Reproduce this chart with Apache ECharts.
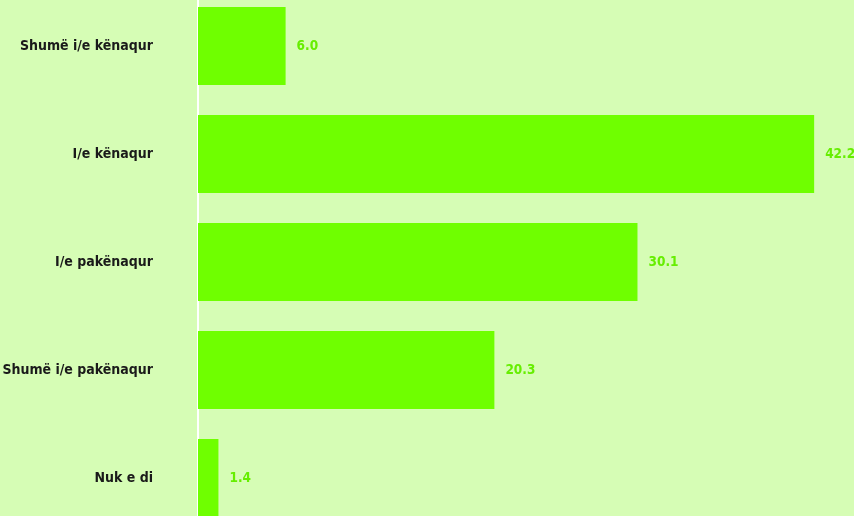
<!DOCTYPE html>
<html><head><meta charset="utf-8">
<script src="https://cdn.jsdelivr.net/npm/echarts@6/dist/echarts.min.js"></script>
<style>html,body{margin:0;padding:0;background:#d6fdb5;}#c{width:854px;height:516px;}</style>
</head><body><div id="c"></div>
<script>
const categories = ["Shumë i/e kënaqur", "I/e kënaqur", "I/e pakënaqur", "Shumë i/e pakënaqur", "Nuk e di"];
const values = [6.0, 42.2, 30.1, 20.3, 1.4];
const FONT = '"Liberation Sans Narrow", "DejaVu Sans Condensed", sans-serif';
const chart = echarts.init(document.getElementById('c'));
chart.setOption({
  backgroundColor: '#d6fdb5',
  animation: false,
  grid: {left: 198, right: 0, top: -8, height: 540, containLabel: false, outerBoundsMode: 'none'},
  xAxis: {type: 'value', min: 0, max: 44.93, show: false},
  yAxis: {
    type: 'category', data: categories, inverse: true, offset: 1,
    axisLine: {show: true, lineStyle: {color: '#ffffff', width: 2}},
    axisTick: {show: false},
    axisLabel: {margin: 44, color: '#1a1a1a', fontFamily: FONT, fontWeight: 'bold', fontSize: 14}
  },
  series: [{
    type: 'bar', data: values, barCategoryGap: '27.8%',
    itemStyle: {color: '#6fff00'},
    label: {show: true, position: 'right', distance: 11, color: '#66ee00', fontFamily: FONT, fontWeight: 'bold', fontSize: 13.5,
      formatter: p => p.value.toFixed(1)}
  }]
});
</script></body></html>
